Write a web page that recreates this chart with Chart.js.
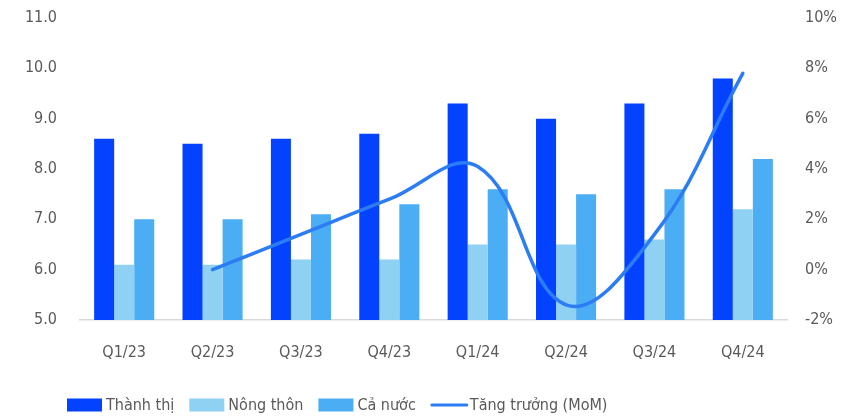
<!DOCTYPE html>
<html>
<head>
<meta charset="utf-8">
<script src="https://cdn.jsdelivr.net/npm/chart.js@4"></script>
<style>
html,body{margin:0;padding:0;background:#fff;}
#wrap{width:864px;height:417px;position:relative;}
</style>
</head>
<body>
<div id="wrap"><canvas id="c" width="864" height="417"></canvas></div>
<script>
const categories = ['Q1/23','Q2/23','Q3/23','Q4/23','Q1/24','Q2/24','Q3/24','Q4/24'];
const thanhThi = [8.6, 8.5, 8.6, 8.7, 9.3, 9.0, 9.3, 9.8];
const nongThon = [6.1, 6.1, 6.2, 6.2, 6.5, 6.5, 6.6, 7.2];
const caNuoc = [7.0, 7.0, 7.1, 7.3, 7.6, 7.5, 7.6, 8.2];
const tangTruong = [null, 0.0, 1.4, 2.8, 4.1, -1.4, 1.4, 7.8];
const leftTicks = [5, 6, 7, 8, 9, 10, 11];
const rightTicks = [-2, 0, 2, 4, 6, 8, 10];
const seriesNames = ['Thành thị', 'Nông thôn', 'Cả nước', 'Tăng trưởng (MoM)'];

const FONT = "'DejaVu Sans Condensed', 'Noto Sans', sans-serif";
const FS = 16;
const TXT = '#595959';
const colors = ['#0343FF', '#8ED1F3', '#4BAEF5', '#2C7CF4'];

const legendPlugin = {
  id: 'customLegend',
  afterDraw(chart) {
    const ctx = chart.ctx;
    ctx.save();
    ctx.font = FS + 'px ' + FONT;
    ctx.textBaseline = 'middle';
    let x = 67;
    const y = 405;
    chart.data.datasets.forEach((ds) => {
      if (ds.type === 'line') {
        ctx.strokeStyle = ds.borderColor;
        ctx.lineWidth = 3;
        ctx.lineCap = 'round';
        ctx.beginPath();
        ctx.moveTo(x + 1, y);
        ctx.lineTo(x + 36, y);
        ctx.stroke();
      } else {
        ctx.fillStyle = ds.backgroundColor;
        ctx.fillRect(x, y - 6.5, 35, 13);
      }
      x += 39;
      ctx.fillStyle = TXT;
      ctx.fillText(ds.label, x, y + 1);
      x += ctx.measureText(ds.label).width + 15;
    });
    ctx.restore();
  }
};

function fixVertical(w) {
  return function (s) { s.width = w; s.paddingTop = 0; s.paddingBottom = 0; };
}

new Chart(document.getElementById('c'), {
  data: {
    labels: categories,
    datasets: [
      { type: 'bar', label: seriesNames[0], data: thanhThi, backgroundColor: colors[0], yAxisID: 'y', order: 1 },
      { type: 'bar', label: seriesNames[1], data: nongThon, backgroundColor: colors[1], yAxisID: 'y', order: 1 },
      { type: 'bar', label: seriesNames[2], data: caNuoc, backgroundColor: colors[2], yAxisID: 'y', order: 1 },
      { type: 'line', label: seriesNames[3], data: tangTruong, borderColor: colors[3], backgroundColor: colors[3],
        borderWidth: 3.5, tension: 0.4, pointRadius: 0, borderCapStyle: 'round', yAxisID: 'y1', order: 0, spanGaps: false }
    ]
  },
  options: {
    responsive: false,
    animation: false,
    layout: { padding: { top: 18, left: 0, right: 0, bottom: 0 } },
    datasets: { bar: { categoryPercentage: 0.68, barPercentage: 1.0 } },
    plugins: { legend: { display: false }, tooltip: { enabled: false } },
    scales: {
      x: {
        offset: true,
        grid: { display: false, drawTicks: false },
        border: { display: true, color: '#D9D9D9', width: 1.5 },
        ticks: { color: TXT, font: { family: FONT, size: FS }, padding: 23 },
        afterFit(s) { s.height = 97; s.paddingLeft = 0; s.paddingRight = 0; }
      },
      y: {
        position: 'left',
        min: 5, max: 11,
        afterBuildTicks(s) { s.ticks = leftTicks.map(v => ({ value: v })); },
        grid: { display: false, drawTicks: false },
        border: { display: false },
        ticks: { color: TXT, font: { family: FONT, size: FS }, padding: 23, callback: v => v.toFixed(1) },
        afterFit: fixVertical(80)
      },
      y1: {
        position: 'right',
        min: -2, max: 10,
        afterBuildTicks(s) { s.ticks = rightTicks.map(v => ({ value: v })); },
        grid: { display: false, drawTicks: false },
        border: { display: false },
        ticks: { color: TXT, font: { family: FONT, size: FS }, padding: 18, callback: v => v + '%' },
        afterFit: fixVertical(77)
      }
    }
  },
  plugins: [legendPlugin]
});
</script>
</body>
</html>
